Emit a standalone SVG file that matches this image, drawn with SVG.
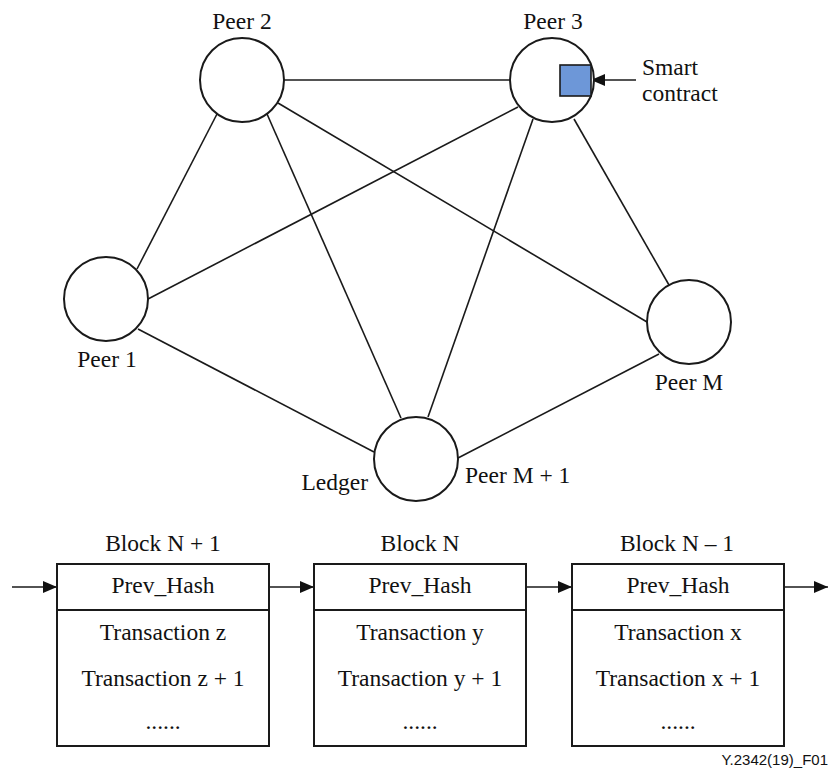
<svg xmlns="http://www.w3.org/2000/svg" width="831" height="769" viewBox="0 0 831 769">
<defs>
<marker id="arr" viewBox="0 0 14 12" refX="14" refY="6" markerWidth="14" markerHeight="12" markerUnits="userSpaceOnUse" orient="auto">
<path d="M0,0 L14,6 L0,12 Z" fill="#111"/>
</marker>
</defs>
<style>
.peer{fill:#fff;stroke:#1a1a1a;stroke-width:2}
.edge{stroke:#1a1a1a;stroke-width:1.6;fill:none}
.blk{fill:#fff;stroke:#1a1a1a;stroke-width:2}
.t{font-family:"Liberation Serif","Times New Roman",serif;font-size:23.5px;fill:#111}
.c{text-anchor:middle}
.fig{font-family:"Liberation Sans",Arial,sans-serif;font-size:15px;fill:#111;text-anchor:end}
</style>
<rect width="831" height="769" fill="#fff"/>
<g id="connectors">
<line class="edge" x1="284" y1="80" x2="510" y2="80"/>
<line class="edge" x1="217" y1="114" x2="137" y2="269"/>
<line class="edge" x1="267" y1="114" x2="401" y2="418"/>
<line class="edge" x1="278" y1="103" x2="647" y2="322"/>
<line class="edge" x1="148" y1="299" x2="518" y2="107"/>
<line class="edge" x1="533" y1="119" x2="428" y2="417"/>
<line class="edge" x1="574" y1="119" x2="669" y2="285"/>
<line class="edge" x1="138" y1="329" x2="374" y2="452"/>
<line class="edge" x1="659" y1="354" x2="458" y2="458"/>
<line class="edge" x1="636" y1="80" x2="591" y2="80" marker-end="url(#arr)"/>
<line class="edge" x1="12" y1="587" x2="57" y2="587" marker-end="url(#arr)"/>
<line class="edge" x1="269" y1="587" x2="314" y2="587" marker-end="url(#arr)"/>
<line class="edge" x1="526" y1="587" x2="572" y2="587" marker-end="url(#arr)"/>
<line class="edge" x1="783" y1="587" x2="828" y2="587" marker-end="url(#arr)"/>
</g>
<g id="peer2">
<circle class="peer" cx="242" cy="80" r="42"/>
<text class="t c" x="242" y="29">Peer 2</text>
</g>
<g id="peer3">
<circle class="peer" cx="552" cy="80" r="42"/>
<text class="t c" x="553" y="29">Peer 3</text>
</g>
<g id="smart-contract">
<rect x="560" y="65" width="31" height="31" fill="#6d97d8" stroke="#1a1a1a" stroke-width="1.6"/>
<text class="t" x="642" y="75">Smart</text>
<text class="t" x="642" y="101">contract</text>
</g>
<g id="peer1">
<circle class="peer" cx="106" cy="299" r="42"/>
<text class="t c" x="107" y="367">Peer 1</text>
</g>
<g id="peerM">
<circle class="peer" cx="689" cy="322" r="42"/>
<text class="t c" x="689" y="390">Peer M</text>
</g>
<g id="peerM1">
<circle class="peer" cx="416" cy="459" r="42"/>
<text class="t" x="465" y="483">Peer M + 1</text>
<text class="t" x="368" y="490" text-anchor="end">Ledger</text>
</g>
<g id="blockN1">
<text class="t c" x="163" y="551">Block N + 1</text>
<rect class="blk" x="57" y="564" width="212" height="182"/>
<line class="blk" x1="57" y1="610" x2="269" y2="610"/>
<text class="t c" x="163" y="593">Prev_Hash</text>
<text class="t c" x="163" y="640">Transaction z</text>
<text class="t c" x="163" y="686">Transaction z + 1</text>
<text class="t c" x="163" y="729">......</text>
</g>
<g id="blockN">
<text class="t c" x="420" y="551">Block N</text>
<rect class="blk" x="314" y="564" width="212" height="182"/>
<line class="blk" x1="314" y1="610" x2="526" y2="610"/>
<text class="t c" x="420" y="593">Prev_Hash</text>
<text class="t c" x="420" y="640">Transaction y</text>
<text class="t c" x="420" y="686">Transaction y + 1</text>
<text class="t c" x="420" y="729">......</text>
</g>
<g id="blockN-1">
<text class="t c" x="677" y="551">Block N – 1</text>
<rect class="blk" x="572" y="564" width="212" height="182"/>
<line class="blk" x1="572" y1="610" x2="784" y2="610"/>
<text class="t c" x="678" y="593">Prev_Hash</text>
<text class="t c" x="678" y="640">Transaction x</text>
<text class="t c" x="678" y="686">Transaction x + 1</text>
<text class="t c" x="678" y="729">......</text>
</g>
<text class="fig" x="828" y="765">Y.2342(19)_F01</text>
</svg>
